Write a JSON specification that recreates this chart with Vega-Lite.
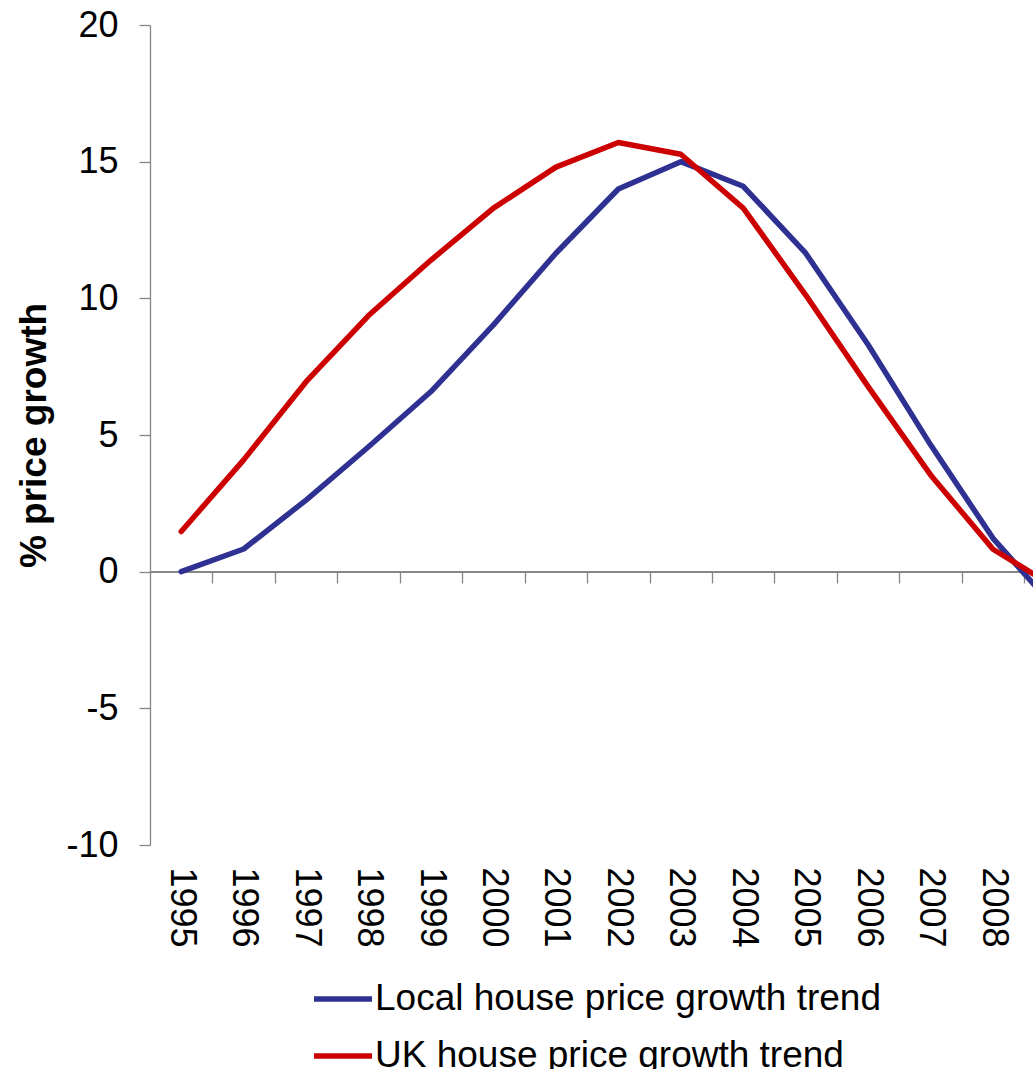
{
  "$schema": "https://vega.github.io/schema/vega-lite/v6.json",
  "width": 883,
  "height": 820,
  "autosize": "none",
  "padding": {"left": 150, "top": 25, "right": 0, "bottom": 224},
  "background": "white",
  "config": {
    "view": {"stroke": null},
    "font": "Liberation Sans",
    "axis": {"grid": false, "domainColor": "#868686", "tickColor": "#868686", "labelColor": "black", "labelFont": "Liberation Sans", "titleFont": "Liberation Sans"}
  },
  "data": {"values": [
    {"year": 1995, "series": "Local house price growth trend", "value": 0.0},
    {"year": 1996, "series": "Local house price growth trend", "value": 0.83},
    {"year": 1997, "series": "Local house price growth trend", "value": 2.62},
    {"year": 1998, "series": "Local house price growth trend", "value": 4.57},
    {"year": 1999, "series": "Local house price growth trend", "value": 6.59},
    {"year": 2000, "series": "Local house price growth trend", "value": 9.03},
    {"year": 2001, "series": "Local house price growth trend", "value": 11.65},
    {"year": 2002, "series": "Local house price growth trend", "value": 14.0},
    {"year": 2003, "series": "Local house price growth trend", "value": 15.0},
    {"year": 2004, "series": "Local house price growth trend", "value": 14.1},
    {"year": 2005, "series": "Local house price growth trend", "value": 11.65},
    {"year": 2006, "series": "Local house price growth trend", "value": 8.3},
    {"year": 2007, "series": "Local house price growth trend", "value": 4.64},
    {"year": 2008, "series": "Local house price growth trend", "value": 1.22},
    {"year": 2009, "series": "Local house price growth trend", "value": -1.36},
    {"year": 1995, "series": "UK house price growth trend", "value": 1.47},
    {"year": 1996, "series": "UK house price growth trend", "value": 4.09},
    {"year": 1997, "series": "UK house price growth trend", "value": 6.95},
    {"year": 1998, "series": "UK house price growth trend", "value": 9.37},
    {"year": 1999, "series": "UK house price growth trend", "value": 11.4},
    {"year": 2000, "series": "UK house price growth trend", "value": 13.3},
    {"year": 2001, "series": "UK house price growth trend", "value": 14.8},
    {"year": 2002, "series": "UK house price growth trend", "value": 15.7},
    {"year": 2003, "series": "UK house price growth trend", "value": 15.27},
    {"year": 2004, "series": "UK house price growth trend", "value": 13.3},
    {"year": 2005, "series": "UK house price growth trend", "value": 10.12},
    {"year": 2006, "series": "UK house price growth trend", "value": 6.77},
    {"year": 2007, "series": "UK house price growth trend", "value": 3.54},
    {"year": 2008, "series": "UK house price growth trend", "value": 0.82},
    {"year": 2009, "series": "UK house price growth trend", "value": -0.58}
  ]},
  "layer": [
    {
      "mark": {"type": "rule", "color": "#868686", "strokeWidth": 1.3},
      "encoding": {
        "y": {"datum": 0, "type": "quantitative"},
        "x": {"datum": 1994.5, "type": "quantitative",
          "axis": {"values": [1995.5, 1996.5, 1997.5, 1998.5, 1999.5, 2000.5, 2001.5, 2002.5, 2003.5, 2004.5, 2005.5, 2006.5, 2007.5, 2008.5], "labels": false, "domain": false, "ticks": true, "tickSize": 11, "tickWidth": 1.3, "offset": -273, "title": null, "orient": "bottom"}},
        "x2": {"datum": 2008.64}
      }
    },
    {
      "mark": {"type": "line", "strokeWidth": 5.5, "clip": true, "strokeCap": "round", "strokeJoin": "round"},
      "encoding": {
        "x": {"field": "year", "type": "quantitative",
          "scale": {"domain": [1994.5, 2008.64], "nice": false, "zero": false},
          "axis": {"values": [1995, 1996, 1997, 1998, 1999, 2000, 2001, 2002, 2003, 2004, 2005, 2006, 2007, 2008], "format": "d", "labelAngle": 90, "labelFontSize": 36, "labelPadding": 22, "ticks": false, "tickSize": 0, "domain": false, "labelFlush": false, "labelOverlap": false, "labelBound": false, "title": null, "orient": "bottom"}},
        "y": {"field": "value", "type": "quantitative",
          "scale": {"domain": [-10, 20], "nice": false},
          "axis": {"values": [-10, -5, 0, 5, 10, 15, 20], "labelExpr": "'' + datum.value", "labelFontSize": 36, "tickSize": 11, "tickWidth": 1.3, "domainWidth": 1.3, "labelPadding": 21, "title": "% price growth", "titleFontSize": 37, "titleFontWeight": "bold", "titleColor": "black", "titlePadding": 12}},
        "color": {"field": "series", "type": "nominal",
          "scale": {"domain": ["Local house price growth trend", "UK house price growth trend"], "range": ["#2E3192", "#CC0000"]},
          "legend": {"orient": "none", "legendX": 161, "legendY": 942, "direction": "vertical", "title": null, "symbolType": "stroke", "symbolSize": 3364, "symbolStrokeWidth": 5.5, "labelFontSize": 37, "labelColor": "black", "labelOffset": 0, "padding": 0, "rowPadding": 7, "labelLimit": 0}
        }
      }
    }
  ],
  "resolve": {"axis": {"x": "independent"}}
}
